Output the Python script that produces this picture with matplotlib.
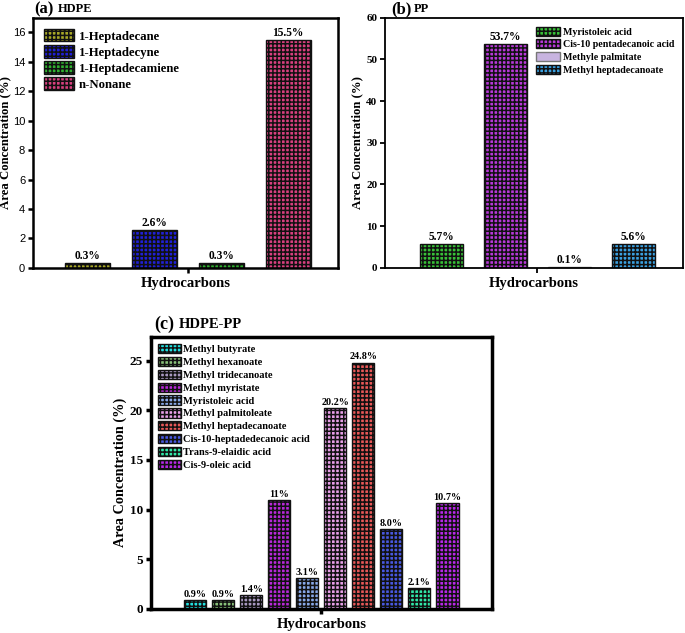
import numpy as np
import matplotlib
matplotlib.use("Agg")
import matplotlib.pyplot as plt

plt.rcParams['hatch.linewidth'] = 1.1

# (a) HDPE
hdpe_names = ["1-Heptadecane", "1-Heptadecyne", "1-Heptadecamiene", "n-Nonane"]
hdpe_vals = [0.3, 2.6, 0.3, 15.5]
hdpe_labels = ["0.3%", "2.6%", "0.3%", "15.5%"]
hdpe_colors = ["#a8a828", "#2020d8", "#30b030", "#d8407f"]

# (b) PP
pp_names = ["Myristoleic acid", "Cis-10 pentadecanoic acid", "Methyle palmitate", "Methyl heptadecanoate"]
pp_vals = [5.7, 53.7, 0.1, 5.6]
pp_labels = ["5.7%", "53.7%", "0.1%", "5.6%"]
pp_colors = ["#38c038", "#b838d8", "#c8b4e0", "#3aa0e0"]
pp_hatch = ["++++", "++++", "", "++++"]

# (c) HDPE-PP
mix_names = ["Methyl butyrate", "Methyl hexanoate", "Methyl tridecanoate", "Methyl myristate",
             "Myristoleic acid", "Methyl palmitoleate", "Methyl heptadecanoate",
             "Cis-10-heptadedecanoic acid", "Trans-9-elaidic acid", "Cis-9-oleic acid"]
mix_vals = [0.9, 0.9, 1.4, 11.0, 3.1, 20.2, 24.8, 8.0, 2.1, 10.7]
mix_labels = ["0.9%", "0.9%", "1.4%", "11%", "3.1%", "20.2%", "24.8%", "8.0%", "2.1%", "10.7%"]
mix_colors = ["#20e0e0", "#88c078", "#a898c0", "#b828d8", "#88a8e8", "#e8a0e8", "#e85858",
              "#4858e0", "#30e8a8", "#b828e8"]

serif = "Liberation Serif"
fig = plt.figure(figsize=(6.85, 6.33), dpi=100)


def draw_panel(ax, names, vals, labels, colors, hatches, width, xlim, ylim, yticks,
               tickfont, ticksize, spine_w, lab_size, ylab_size):
    x = np.arange(len(vals))
    for i in range(len(vals)):
        ax.bar(x[i], vals[i], width, color=colors[i], edgecolor="#111111" if hatches[i] else "#777777",
               hatch=hatches[i], linewidth=1.0, label=names[i], zorder=2)
        ax.text(x[i], vals[i] + (ylim[1] * 0.004), labels[i], ha="center", va="bottom",
                fontfamily=serif, fontweight="bold", fontsize=lab_size, zorder=3)
    ax.set_xlim(*xlim)
    ax.set_ylim(*ylim)
    ax.set_xticks([(len(vals) - 1) / 2])
    ax.set_xticklabels([""])
    ax.set_yticks(yticks)
    for lab in ax.get_yticklabels():
        lab.set_fontfamily(tickfont)
        lab.set_fontsize(ticksize)
        if tickfont == serif:
            lab.set_fontweight("bold")
    for s in ax.spines.values():
        s.set_linewidth(spine_w)
    ax.tick_params(axis="both", direction="out", width=spine_w, length=3.5, pad=2)
    ax.set_xlabel("Hydrocarbons", fontfamily=serif, fontweight="bold", fontsize=10.5, labelpad=1)
    ax.set_ylabel("Area Concentration (%)", fontfamily=serif, fontweight="bold",
                  fontsize=ylab_size, labelpad=2)


ax1 = fig.add_axes([0.048, 0.577, 0.445, 0.395])
draw_panel(ax1, hdpe_names, hdpe_vals, hdpe_labels, hdpe_colors, ["++++"] * 4, 0.67,
           (-0.81, 3.74), (0, 17), range(0, 17, 2), "Liberation Sans", 8, 1.8, 8.3, 9.2)
ax1.yaxis.labelpad = 1
ax1.legend(loc="upper left", frameon=False, prop={"family": serif, "weight": "bold", "size": 9.2},
           handlelength=2.3, handleheight=1.1, handletextpad=0.4, labelspacing=0.2,
           borderaxespad=0.5)
fig.text(0.050, 0.9855, "(a)", fontfamily=serif, fontweight="bold", fontsize=12, va="center")
fig.text(0.084, 0.9855, "HDPE", fontfamily=serif, fontweight="bold", fontsize=9, va="center")

ax2 = fig.add_axes([0.562, 0.577, 0.435, 0.395])
draw_panel(ax2, pp_names, pp_vals, pp_labels, pp_colors, pp_hatch, 0.67,
           (-0.88, 3.77), (0, 60), range(0, 61, 10), serif, 8, 1.3, 8.3, 9.2)
ax2.legend(loc="upper right", frameon=False, prop={"family": serif, "weight": "bold", "size": 7.2},
           handlelength=2.4, handleheight=1.0, handletextpad=0.3, labelspacing=0.28,
           borderaxespad=0.5)
fig.text(0.571, 0.9855, "(b)", fontfamily=serif, fontweight="bold", fontsize=12, va="center")
fig.text(0.604, 0.9855, "PP", fontfamily=serif, fontweight="bold", fontsize=9, va="center")

ax3 = fig.add_axes([0.220, 0.038, 0.498, 0.430])
draw_panel(ax3, mix_names, mix_vals, mix_labels, mix_colors, ["++++"] * 10, 0.8,
           (-1.59, 10.59), (0, 27.4), range(0, 26, 5), serif, 9.5, 2.5, 7.3, 10.3)
ax3.legend(loc="upper left", frameon=False, prop={"family": serif, "weight": "bold", "size": 7.5},
           handlelength=2.2, handleheight=1.0, handletextpad=0.2, labelspacing=0.25,
           borderaxespad=0.3)
fig.text(0.225, 0.487, "(c)", fontfamily=serif, fontweight="bold", fontsize=13, va="center")
fig.text(0.261, 0.487, "HDPE-PP", fontfamily=serif, fontweight="bold", fontsize=10.5, va="center")

fig.savefig("out.png", dpi=100)
